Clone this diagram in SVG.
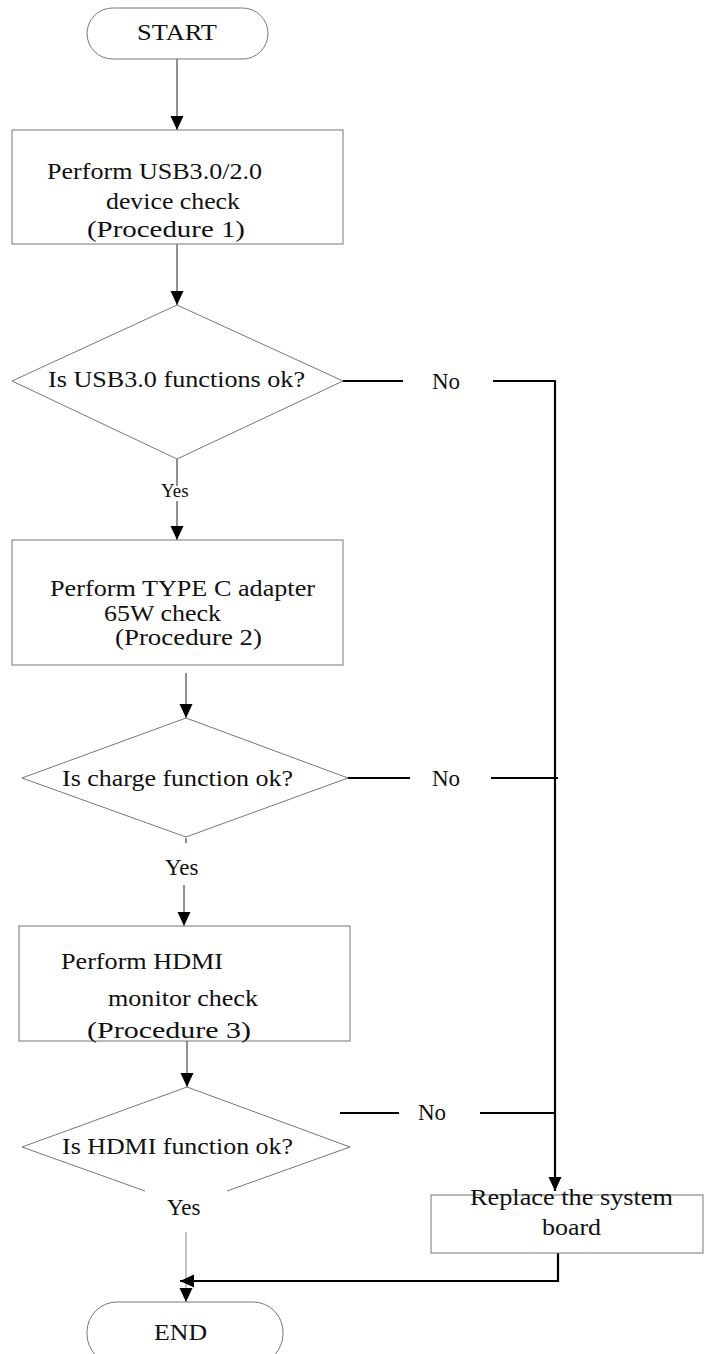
<svg xmlns="http://www.w3.org/2000/svg" width="704" height="1354" viewBox="0 0 704 1354">
<style>
.node{fill:#fff;stroke:#777;stroke-width:1}
.t{font-family:"Liberation Serif","Times New Roman",serif;font-size:23.5px;fill:#111}
.s{font-family:"Liberation Serif","Times New Roman",serif;font-size:23px;fill:#111}
.c{stroke:#222;stroke-width:1;fill:none}
.g{stroke:#999;stroke-width:1.2;fill:none}
.k{stroke:#000;stroke-width:2.2;fill:none}
</style>
<defs>
<marker id="ah" markerUnits="userSpaceOnUse" markerWidth="14" markerHeight="14" refX="14" refY="6.5" orient="auto" viewBox="0 0 14 13">
<path d="M0,0 L14,6.5 L0,13 z" fill="#000"/>
</marker>
</defs>
<rect width="704" height="1354" fill="#fff"/>
<g id="connectors">
<line class="c" x1="177" y1="59" x2="177" y2="130" marker-end="url(#ah)"/>
<line class="c" x1="177" y1="244" x2="177" y2="305" marker-end="url(#ah)"/>
<line class="c" x1="177" y1="459" x2="177" y2="486"/>
<line class="c" x1="177" y1="501" x2="177" y2="540" marker-end="url(#ah)"/>
<line class="c" x1="186" y1="673" x2="186" y2="718" marker-end="url(#ah)"/>
<line class="c" x1="186" y1="838" x2="186" y2="843"/>
<line class="c" x1="184" y1="885" x2="184" y2="926" marker-end="url(#ah)"/>
<line class="c" x1="187" y1="1041" x2="187" y2="1087" marker-end="url(#ah)"/>
<line class="g" x1="186" y1="1232" x2="186" y2="1302" marker-end="url(#ah)"/>
<line class="k" x1="343" y1="381" x2="403" y2="381"/>
<line class="k" x1="493" y1="381" x2="555" y2="381"/>
<line class="k" x1="348" y1="778" x2="410" y2="778"/>
<line class="k" x1="491" y1="778" x2="558" y2="778"/>
<line class="k" x1="340" y1="1113" x2="399" y2="1113"/>
<line class="k" x1="480" y1="1113" x2="555" y2="1113"/>
<line class="k" x1="555" y1="380" x2="555" y2="1191" marker-end="url(#ah)"/>
<line class="k" x1="558" y1="1253" x2="558" y2="1282"/>
<line class="k" x1="559" y1="1281" x2="180" y2="1281" marker-end="url(#ah)"/>
</g>
<g id="start">
<rect class="node" x="87" y="8" width="181" height="51" rx="25.5"/>
<text class="t" x="137" y="40" textLength="80" lengthAdjust="spacingAndGlyphs">START</text>
</g>
<g id="box1">
<rect class="node" x="12" y="130" width="331" height="114"/>
<text class="t" x="47" y="179" textLength="215" lengthAdjust="spacingAndGlyphs">Perform USB3.0/2.0</text>
<text class="t" x="106" y="209" textLength="134" lengthAdjust="spacingAndGlyphs">device check</text>
<text class="t" x="87" y="237" textLength="158" lengthAdjust="spacingAndGlyphs">(Procedure 1)</text>
</g>
<g id="dec1">
<polygon class="node" points="177,305 343,381 177,459 12,381"/>
<text class="t" x="48" y="387" textLength="257" lengthAdjust="spacingAndGlyphs">Is USB3.0 functions ok?</text>
</g>
<g id="labels">
<text class="s" x="432" y="389">No</text>
<text class="s" x="161" y="497" style="font-size:19px">Yes</text>
<text class="s" x="432" y="786">No</text>
<text class="s" x="165" y="875">Yes</text>
<text class="s" x="418" y="1120">No</text>
<text class="s" x="167" y="1215">Yes</text>
</g>
<g id="box2">
<rect class="node" x="12" y="540" width="331" height="125"/>
<text class="t" x="50" y="596" textLength="265" lengthAdjust="spacingAndGlyphs">Perform TYPE C adapter</text>
<text class="t" x="104" y="621" textLength="117" lengthAdjust="spacingAndGlyphs">65W check</text>
<text class="t" x="115" y="645" textLength="147" lengthAdjust="spacingAndGlyphs">(Procedure 2)</text>
</g>
<g id="dec2">
<polygon class="node" points="186,718 348,778 186,837 22,778"/>
<text class="t" x="62" y="786" textLength="231" lengthAdjust="spacingAndGlyphs">Is charge function ok?</text>
</g>
<g id="box3">
<rect class="node" x="19" y="926" width="331" height="115"/>
<text class="t" x="61" y="969" textLength="162" lengthAdjust="spacingAndGlyphs">Perform HDMI</text>
<text class="t" x="108" y="1006" textLength="150" lengthAdjust="spacingAndGlyphs">monitor check</text>
<text class="t" x="87" y="1038" textLength="164" lengthAdjust="spacingAndGlyphs">(Procedure 3)</text>
</g>
<g id="dec3">
<polyline class="node" style="fill:none" points="145,1191 22,1147 187,1087 350,1147 227,1191"/>
<text class="t" x="62" y="1154" textLength="231" lengthAdjust="spacingAndGlyphs">Is HDMI function ok?</text>
</g>
<g id="replace">
<rect class="node" x="431" y="1195" width="272" height="58"/>
<text class="t" x="470" y="1205" textLength="203" lengthAdjust="spacingAndGlyphs">Replace the system</text>
<text class="t" x="542" y="1235" textLength="59" lengthAdjust="spacingAndGlyphs">board</text>
</g>
<g id="end">
<rect class="node" x="87" y="1302" width="196" height="62" rx="30"/>
<text class="t" x="154" y="1340" textLength="53" lengthAdjust="spacingAndGlyphs">END</text>
</g>
</svg>
